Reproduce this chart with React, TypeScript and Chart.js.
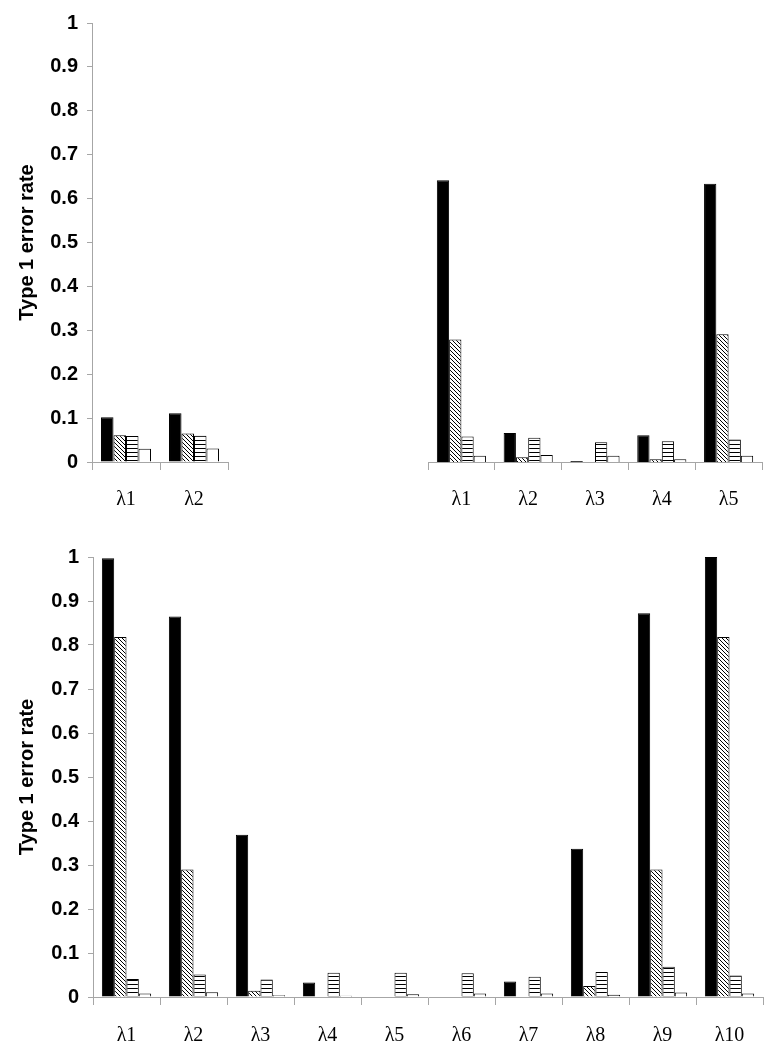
import React, { useEffect, useRef } from "react";
import { Chart, registerables } from "chart.js";

Chart.register(...registerables);

const topLeftLabels = ["λ1", "λ2"];
const topLeftBlack = [0.102, 0.111];
const topLeftHatch = [0.061, 0.065];
const topLeftStripe = [0.059, 0.06];
const topLeftWhite = [0.03, 0.031];

const topRightLabels = ["λ1", "λ2", "λ3", "λ4", "λ5"];
const topRightBlack = [0.642, 0.066, 0.002, 0.061, 0.634];
const topRightHatch = [0.279, 0.011, 0, 0.006, 0.291];
const topRightStripe = [0.058, 0.055, 0.045, 0.047, 0.051];
const topRightWhite = [0.014, 0.016, 0.014, 0.006, 0.014];

const bottomLabels = ["λ1", "λ2", "λ3", "λ4", "λ5", "λ6", "λ7", "λ8", "λ9", "λ10"];
const bottomBlack = [0.997, 0.865, 0.369, 0.033, 0, 0, 0.035, 0.337, 0.872, 1.0];
const bottomHatch = [0.818, 0.29, 0.014, 0, 0, 0, 0, 0.025, 0.29, 0.818];
const bottomStripe = [0.041, 0.051, 0.04, 0.055, 0.055, 0.054, 0.046, 0.057, 0.069, 0.049];
const bottomWhite = [0.008, 0.011, 0.004, 0.003, 0.006, 0.008, 0.008, 0.005, 0.01, 0.008];

const yTickLabels = ["0", "0.1", "0.2", "0.3", "0.4", "0.5", "0.6", "0.7", "0.8", "0.9", "1"];
const yTitle = "Type 1 error rate";

const AXIS_GRAY = "#a6a6a6";
const SANS = '"Liberation Sans", Arial, sans-serif';
const SERIF = '"Liberation Serif", "Times New Roman", serif';

function makeHatch(): CanvasPattern | string {
  const c = document.createElement("canvas");
  c.width = 4;
  c.height = 4;
  const ctx = c.getContext("2d");
  if (!ctx) return "#888";
  ctx.fillStyle = "#fff";
  ctx.fillRect(0, 0, 4, 4);
  ctx.strokeStyle = "#000";
  ctx.lineWidth = 1;
  ctx.beginPath();
  ctx.moveTo(-1, -1);
  ctx.lineTo(5, 5);
  ctx.moveTo(-1, 3);
  ctx.lineTo(1, 5);
  ctx.moveTo(3, -1);
  ctx.lineTo(5, 1);
  ctx.stroke();
  return ctx.createPattern(c, "repeat") || "#888";
}

function makeStripe(): CanvasPattern | string {
  const c = document.createElement("canvas");
  c.width = 4;
  c.height = 4;
  const ctx = c.getContext("2d");
  if (!ctx) return "#888";
  ctx.fillStyle = "#fff";
  ctx.fillRect(0, 0, 4, 4);
  ctx.fillStyle = "#000";
  ctx.fillRect(0, 0, 4, 1);
  return ctx.createPattern(c, "repeat") || "#888";
}

type PanelProps = {
  labels: string[];
  black: number[];
  hatch: number[];
  stripe: number[];
  white: number[];
  width: number;
  height: number;
  left: number;
  top: number;
  showY: boolean;
  yWidth: number;
  xHeight: number;
  padLeft: number;
  padRight: number;
  padTop: number;
  labelPad: number;
};

function Panel(p: PanelProps) {
  const ref = useRef<HTMLCanvasElement | null>(null);
  useEffect(() => {
    if (!ref.current) return;
    const hatch = makeHatch();
    const stripe = makeStripe();
    const common = { borderColor: "#000", borderWidth: 1, categoryPercentage: 0.735, barPercentage: 1 };
    const chart = new Chart(ref.current, {
      type: "bar",
      data: {
        labels: p.labels,
        datasets: [
          { data: p.black, backgroundColor: "#000", ...common },
          { data: p.hatch, backgroundColor: hatch as any, ...common },
          { data: p.stripe, backgroundColor: stripe as any, ...common },
          { data: p.white, backgroundColor: "#fff", ...common },
        ],
      },
      options: {
        responsive: false,
        animation: false,
        devicePixelRatio: 1,
        layout: { padding: { left: p.padLeft, right: p.padRight, top: p.padTop, bottom: 0 } },
        plugins: { legend: { display: false }, tooltip: { enabled: false }, title: { display: false } },
        scales: {
          x: {
            grid: { drawOnChartArea: false, drawTicks: true, tickLength: 8, color: AXIS_GRAY, offset: true },
            border: { display: true, color: AXIS_GRAY, width: 1 },
            ticks: { color: "#000", font: { family: SERIF, size: 20 }, padding: p.labelPad, maxRotation: 0 },
            afterFit: (s: any) => {
              s.height = p.xHeight;
            },
          },
          y: {
            display: p.showY,
            min: 0,
            max: 1,
            grid: { drawOnChartArea: false, drawTicks: true, tickLength: 5, color: AXIS_GRAY },
            border: { display: true, color: AXIS_GRAY, width: 1 },
            ticks: {
              stepSize: 0.1,
              color: "#000",
              padding: 9,
              font: { family: SANS, size: 20, weight: "bold" },
              callback: (_v: any, i: number) => yTickLabels[i],
            },
            title: {
              display: true,
              text: yTitle,
              color: "#000",
              font: { family: SANS, size: 20, weight: "bold" },
              padding: { top: 15, bottom: 0 },
            },
            afterFit: (s: any) => {
              s.width = p.yWidth;
            },
          },
        },
      } as any,
    });
    return () => chart.destroy();
  }, []);
  return (
    <canvas
      ref={ref}
      width={p.width}
      height={p.height}
      style={{ position: "absolute", left: p.left, top: p.top, width: p.width, height: p.height }}
    />
  );
}

export default function App() {
  return (
    <div style={{ position: "absolute", left: 0, top: 0, width: 784, height: 1050, background: "#fff" }}>
      <Panel
        labels={topLeftLabels}
        black={topLeftBlack}
        hatch={topLeftHatch}
        stripe={topLeftStripe}
        white={topLeftWhite}
        width={250}
        height={520}
        left={0}
        top={0}
        showY={true}
        yWidth={92}
        xHeight={58}
        padLeft={0}
        padRight={22}
        padTop={23}
        labelPad={18}
      />
      <Panel
        labels={topRightLabels}
        black={topRightBlack}
        hatch={topRightHatch}
        stripe={topRightStripe}
        white={topRightWhite}
        width={384}
        height={520}
        left={400}
        top={0}
        showY={false}
        yWidth={0}
        xHeight={58}
        padLeft={28}
        padRight={22}
        padTop={23}
        labelPad={18}
      />
      <Panel
        labels={bottomLabels}
        black={bottomBlack}
        hatch={bottomHatch}
        stripe={bottomStripe}
        white={bottomWhite}
        width={784}
        height={530}
        left={0}
        top={520}
        showY={true}
        yWidth={93}
        xHeight={53}
        padLeft={0}
        padRight={21}
        padTop={37}
        labelPad={19}
      />
    </div>
  );
}
